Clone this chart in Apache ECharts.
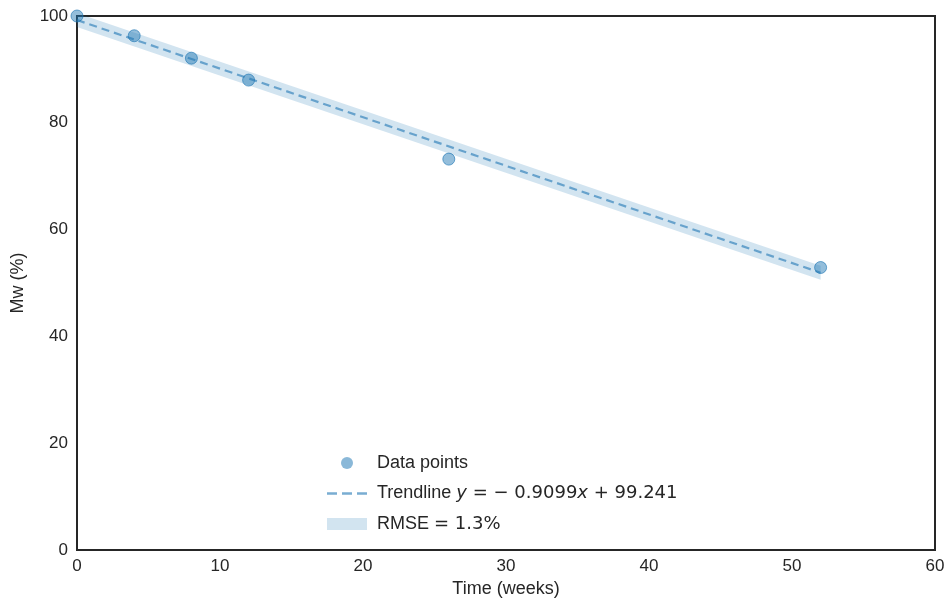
<!DOCTYPE html>
<html>
<head>
<meta charset="utf-8">
<script src="https://cdn.jsdelivr.net/npm/echarts@6/dist/echarts.min.js"></script>
<style>
  html, body { margin: 0; padding: 0; background: #fff; }
  #chart { width: 947px; height: 601px; }
</style>
</head>
<body>
<div id="chart"></div>
<script>
// measured points (weeks, Mw %)
const weeks = [0, 4, 8, 12, 26, 52]
const mw = [100, 96.3, 92.1, 88.0, 73.2, 52.9]

// trendline y = -0.9099x + 99.241, drawn between its two ends
const trendX = [0, 52]
const trendY = [99.241, 51.926]
const rmse = 1.3

const xTicks = [0, 10, 20, 30, 40, 50, 60]
const yTicks = [0, 20, 40, 60, 80, 100]

const blue = '31,119,180'
const font = 'Liberation Sans'
const ink = '#262626'

const chart = echarts.init(document.getElementById('chart'))

const pts = weeks.map((w, i) => [w, mw[i]])
const trend = trendX.map((x, i) => [x, trendY[i]])

// shaded band +/- rmse round the trendline
const renderBand = (params, api) => {
  const top = trendX.map((x, i) => api.coord([x, trendY[i] + rmse]))
  const bottom = trendX.map((x, i) => api.coord([x, trendY[i] - rmse])).reverse()
  return {
    type: 'polygon',
    shape: { points: top.concat(bottom) },
    style: { fill: 'rgba(' + blue + ',0.2)' }
  }
}

// legend keys, drawn in a 40x16 box (the empty moves fix the box)
const box = 'M0,0L0,0M40,16L40,16'
const dotIcon = 'path://' + box + 'M14,8a6,6 0 1,0 12,0a6,6 0 1,0 -12,0z'
const dashIcon = 'path://' + box + 'M0,6.8h10v2.4h-10zM15,6.8h10v2.4h-10zM30,6.8h10v2.4h-10z'
const rectIcon = 'path://' + box + 'M0,2h40v12h-40z'

const option = {
  animation: false,
  grid: {
    left: 77,
    right: 12,
    top: 16,
    bottom: 51,
    outerBoundsMode: 'none',
    show: true,
    borderColor: ink,
    borderWidth: 2,
    backgroundColor: '#fff'
  },
  legend: {
    orient: 'vertical',
    left: 322,
    top: 449,
    itemWidth: 40,
    itemHeight: 16,
    itemGap: 12.5,
    textStyle: {
      fontFamily: font,
      fontSize: 18,
      lineHeight: 16,
      color: ink,
      padding: [0, 0, 0, 5],
      rich: {
        t: { fontFamily: font, fontSize: 18, lineHeight: 16, color: ink },
        m: { fontFamily: 'DejaVu Sans', fontSize: 18, lineHeight: 16, color: ink },
        i: { fontFamily: 'DejaVu Sans', fontSize: 18, lineHeight: 16, fontStyle: 'italic', color: ink }
      }
    },
    formatter: (name) => {
      if (name === 'Trendline') {
        return '{t|Trendline }{i|y}{m| = − 0.9099}{i|x}{m| + 99.241}'
      }
      if (name === 'RMSE') {
        return '{t|RMSE }{m|= 1.3%}'
      }
      return '{t|' + name + '}'
    },
    data: [
      { name: 'Data points', icon: dotIcon, itemStyle: { borderWidth: 0, color: 'rgba(' + blue + ',0.65)' } },
      { name: 'Trendline', icon: dashIcon, itemStyle: { color: 'rgba(' + blue + ',0.6)' } },
      { name: 'RMSE', icon: rectIcon }
    ]
  },
  xAxis: {
    type: 'value',
    min: 0,
    max: 60,
    interval: 10,
    name: 'Time (weeks)',
    nameLocation: 'middle',
    nameGap: 30,
    nameTextStyle: { fontFamily: font, fontSize: 18, color: ink },
    axisLine: { show: false },
    axisTick: { show: false },
    splitLine: { show: false },
    axisLabel: {
      fontFamily: font, fontSize: 17, color: ink, margin: 8,
      formatter: (v) => xTicks.includes(v) ? String(v) : ''
    }
  },
  yAxis: {
    type: 'value',
    min: 0,
    max: 100,
    interval: 20,
    name: 'Mw (%)',
    nameLocation: 'middle',
    nameGap: 50,
    nameTextStyle: { fontFamily: font, fontSize: 18, color: ink },
    axisLine: { show: false },
    axisTick: { show: false },
    splitLine: { show: false },
    axisLabel: {
      fontFamily: font, fontSize: 17, color: ink, margin: 9,
      formatter: (v) => yTicks.includes(v) ? String(v) : ''
    }
  },
  series: [
    {
      name: 'RMSE',
      type: 'custom',
      renderItem: renderBand,
      data: [0],
      clip: true,
      itemStyle: { color: 'rgba(' + blue + ',0.2)' },
      silent: true,
      z: 1
    },
    {
      name: 'Trendline',
      type: 'line',
      data: trend,
      symbol: 'none',
      itemStyle: { color: 'rgba(' + blue + ',0.6)' },
      lineStyle: { color: 'rgba(' + blue + ',0.6)', width: 2.2, type: [8, 5] },
      z: 2
    },
    {
      name: 'Data points',
      type: 'scatter',
      data: pts,
      symbolSize: 12,
      itemStyle: {
        color: 'rgba(' + blue + ',0.6)',
        borderColor: 'rgba(' + blue + ',0.8)',
        borderWidth: 1
      },
      z: 3
    }
  ]
}

chart.setOption(option)
</script>
</body>
</html>
